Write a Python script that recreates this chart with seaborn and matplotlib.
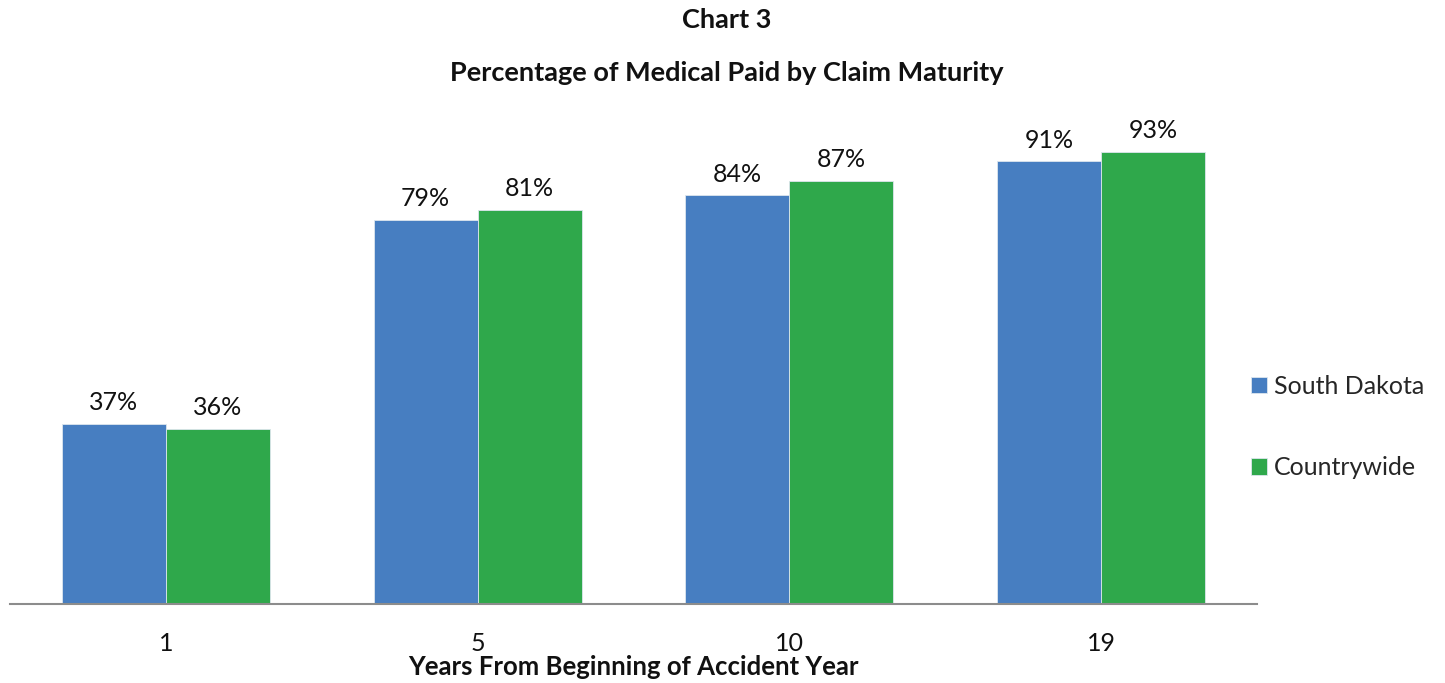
import matplotlib
matplotlib.use("Agg")
import matplotlib.pyplot as plt
import seaborn as sns
import pandas as pd

categories = ["1", "5", "10", "19"]
south_dakota = [37, 79, 84, 91]
countrywide = [36, 81, 87, 93]
series_names = ["South Dakota", "Countrywide"]
colors = ["#477EC1", "#2FA84B"]

df = pd.DataFrame({
    "year": categories * 2,
    "value": south_dakota + countrywide,
    "series": [series_names[0]] * 4 + [series_names[1]] * 4,
})

sns.set_theme(style="white")
plt.rcParams["font.family"] = ["Lato", "DejaVu Sans"]

W, H = 1445, 683
fig = plt.figure(figsize=(W / 100, H / 100), dpi=100)
ax = fig.add_axes([10 / W, (H - 604) / H, (1257 - 10) / W, 486.5 / H])

sns.barplot(data=df, x="year", y="value", hue="series", order=categories,
            hue_order=series_names, palette=colors, width=2 / 3, gap=0,
            saturation=1, edgecolor="#DDE6EE", linewidth=0.6, ax=ax, legend=True)

ax.set_xlim(-0.5, 3.5)
ax.set_ylim(0, 100)
for c in ax.containers:
    ax.bar_label(c, labels=[f"{v:.0f}%" for v in c.datavalues], padding=7,
                 fontsize=18, color="#111111")

for s in ["top", "right", "left"]:
    ax.spines[s].set_visible(False)
ax.spines["bottom"].set_color("#8C8C8C")
ax.spines["bottom"].set_linewidth(1.5)
ax.set_yticks([])
ax.set_ylabel("")
ax.tick_params(axis="x", length=0, labelsize=18, pad=20, colors="#111111")
ax.set_xlabel("Years From Beginning of Accident Year", fontsize=18.5,
              fontweight="bold", labelpad=0, color="#111111")

fig.text(727 / W, 1 - 20 / H, "Chart 3", ha="center", va="center",
         fontsize=19.5, fontweight="bold", color="#111111")
fig.text(727 / W, 1 - 73 / H, "Percentage of Medical Paid by Claim Maturity",
         ha="center", va="center", fontsize=19.5, fontweight="bold", color="#111111")

handles, labels = ax.get_legend_handles_labels()
ax.legend(handles, labels, loc="center left", bbox_to_anchor=(1228 / W, 1 - 427 / H),
          bbox_transform=fig.transFigure, frameon=False, fontsize=18,
          handlelength=0.65, handleheight=0.65, handletextpad=0.3, labelspacing=2.35)

fig.savefig("out.png", dpi=100)
